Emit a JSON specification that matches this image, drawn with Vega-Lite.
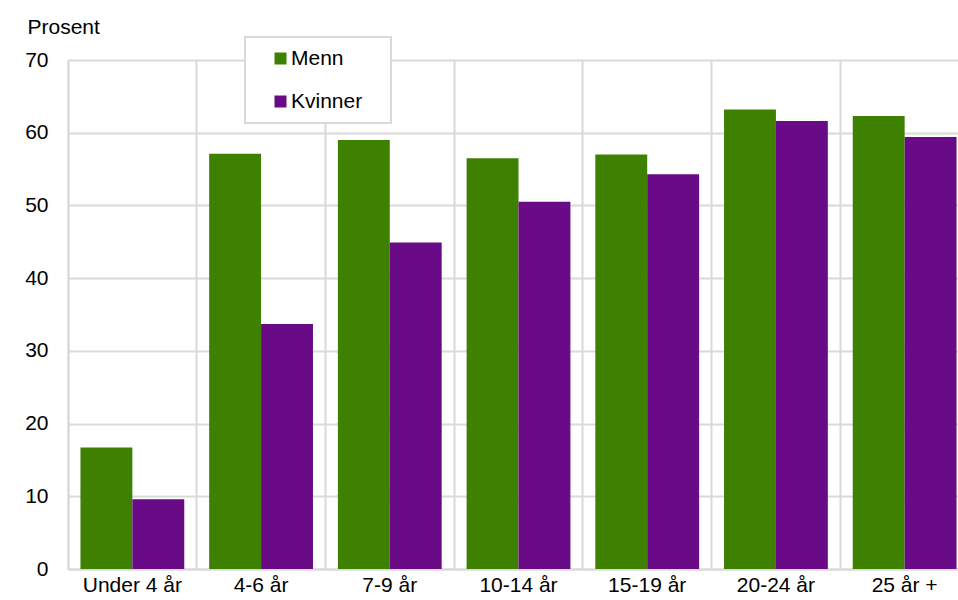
{
  "$schema": "https://vega.github.io/schema/vega-lite/v6.json",
  "autosize": {"type": "none"},
  "width": 901,
  "height": 509,
  "padding": {"left": 68, "top": 60, "right": -11, "bottom": 31},
  "background": "white",
  "config": {
    "font": "Liberation Sans",
    "view": {"stroke": null},
    "axis": {
      "labelFont": "Liberation Sans",
      "labelFontSize": 21,
      "labelColor": "#000000",
      "gridColor": "#d9d9d9",
      "gridWidth": 2,
      "domainColor": "#d9d9d9",
      "domainWidth": 2,
      "ticks": false
    }
  },
  "data": {
    "values": [
      {"alder": "Under 4 år", "kjonn": "Menn", "prosent": 16.7},
      {"alder": "Under 4 år", "kjonn": "Kvinner", "prosent": 9.6},
      {"alder": "4-6 år", "kjonn": "Menn", "prosent": 57.1},
      {"alder": "4-6 år", "kjonn": "Kvinner", "prosent": 33.7},
      {"alder": "7-9 år", "kjonn": "Menn", "prosent": 59.0},
      {"alder": "7-9 år", "kjonn": "Kvinner", "prosent": 44.9},
      {"alder": "10-14 år", "kjonn": "Menn", "prosent": 56.5},
      {"alder": "10-14 år", "kjonn": "Kvinner", "prosent": 50.5},
      {"alder": "15-19 år", "kjonn": "Menn", "prosent": 57.0},
      {"alder": "15-19 år", "kjonn": "Kvinner", "prosent": 54.3},
      {"alder": "20-24 år", "kjonn": "Menn", "prosent": 63.2},
      {"alder": "20-24 år", "kjonn": "Kvinner", "prosent": 61.6},
      {"alder": "25 år +", "kjonn": "Menn", "prosent": 62.3},
      {"alder": "25 år +", "kjonn": "Kvinner", "prosent": 59.4}
    ]
  },
  "mark": {"type": "bar"},
  "encoding": {
    "x": {
      "field": "alder",
      "type": "nominal",
      "sort": null,
      "scale": {"paddingInner": 0, "paddingOuter": 0},
      "axis": {
        "title": null,
        "labelAngle": 0,
        "labelPadding": 5,
        "bandPosition": 0,
        "grid": true
      }
    },
    "xOffset": {
      "field": "kjonn",
      "type": "nominal",
      "sort": ["Menn", "Kvinner"],
      "scale": {"paddingInner": 0, "paddingOuter": 0.24}
    },
    "y": {
      "field": "prosent",
      "type": "quantitative",
      "scale": {"domain": [0, 70], "nice": false},
      "axis": {
        "values": [0, 10, 20, 30, 40, 50, 60, 70],
        "title": "Prosent",
        "titleFont": "Liberation Sans",
        "titleFontSize": 21,
        "titleFontWeight": "normal",
        "titleColor": "#000000",
        "titleAngle": 0,
        "titleAlign": "left",
        "titleBaseline": "alphabetic",
        "titleX": -41,
        "titleY": -27,
        "labelPadding": 20,
        "grid": true
      }
    },
    "color": {
      "field": "kjonn",
      "type": "nominal",
      "scale": {"domain": ["Menn", "Kvinner"], "range": ["#3e8000", "#690a87"]},
      "legend": {
        "orient": "none",
        "legendX": 177,
        "legendY": -23,
        "title": "\u00a0",
        "titleOrient": "right",
        "titlePadding": 18,
        "titleFontSize": 21,
        "padding": 11,
        "symbolOffset": 14,
        "symbolType": "square",
        "symbolSize": 144,
        "symbolStrokeWidth": 0,
        "labelFont": "Liberation Sans",
        "labelFontSize": 21,
        "labelColor": "#000000",
        "labelOffset": 0,
        "rowPadding": 21,
        "strokeColor": "#d9d9d9",
        "fillColor": "white",
        "encode": {"legend": {"update": {"strokeWidth": {"value": 2}}}}
      }
    }
  }
}
